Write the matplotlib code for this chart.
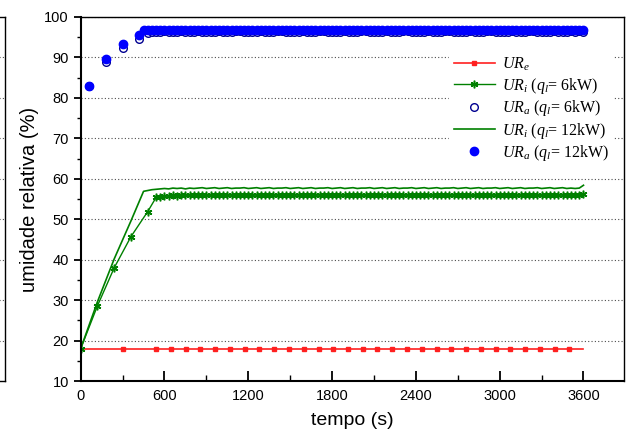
import numpy as np
import matplotlib
matplotlib.use('Agg')
from matplotlib import pyplot as plt
from matplotlib.ticker import MultipleLocator

plt.rcParams['font.family'] = ['Liberation Sans', 'DejaVu Sans']
plt.rcParams['mathtext.fontset'] = 'custom'
plt.rcParams['mathtext.rm'] = 'Liberation Serif'
plt.rcParams['mathtext.it'] = 'Liberation Serif:italic'

# tempos do patamar (s), amostragem de 30 s (103 pontos)
t_patamar = [540, 570, 600, 630, 660, 690, 720, 750, 780, 810,
             840, 870, 900, 930, 960, 990, 1020, 1050, 1080, 1110,
             1140, 1170, 1200, 1230, 1260, 1290, 1320, 1350, 1380, 1410,
             1440, 1470, 1500, 1530, 1560, 1590, 1620, 1650, 1680, 1710,
             1740, 1770, 1800, 1830, 1860, 1890, 1920, 1950, 1980, 2010,
             2040, 2070, 2100, 2130, 2160, 2190, 2220, 2250, 2280, 2310,
             2340, 2370, 2400, 2430, 2460, 2490, 2520, 2550, 2580, 2610,
             2640, 2670, 2700, 2730, 2760, 2790, 2820, 2850, 2880, 2910,
             2940, 2970, 3000, 3030, 3060, 3090, 3120, 3150, 3180, 3210,
             3240, 3270, 3300, 3330, 3360, 3390, 3420, 3450, 3480, 3510,
             3540, 3570, 3600]

# UR externa
t_e = [0, 300, 540, 646, 752, 857, 963, 1069, 1174, 1280, 1386, 1491,
       1597, 1703, 1808, 1914, 2020, 2125, 2231, 2337, 2442, 2548,
       2654, 2759, 2865, 2971, 3076, 3182, 3288, 3393, 3499, 3600]
ur_e = [18.0] * len(t_e)

# UR interna, q = 6 kW
t_i6 = [0, 120, 240, 360, 480] + t_patamar
ur_i6 = [18.0, 28.6, 38.0, 45.7, 51.9] + [
    55.4, 55.6, 55.7, 55.8, 55.9, 55.8, 56.0, 55.9, 56.0, 55.9,
    56.0, 56.1, 55.9, 56.0, 56.1, 56.0, 55.9, 56.1, 56.0, 56.1,
    56.0, 56.1, 55.9, 56.0, 56.1, 56.0, 55.9, 56.1, 56.0, 56.1,
    56.0, 56.1, 55.9, 56.0, 56.1, 56.0, 55.9, 56.1, 56.0, 56.1,
    56.0, 56.1, 55.9, 56.0, 56.1, 56.0, 55.9, 56.1, 56.0, 56.1,
    56.0, 56.1, 55.9, 56.0, 56.1, 56.0, 55.9, 56.1, 56.0, 56.1,
    56.0, 56.1, 55.9, 56.0, 56.1, 56.0, 55.9, 56.1, 56.0, 56.1,
    56.0, 56.1, 55.9, 56.0, 56.1, 56.0, 55.9, 56.1, 56.0, 56.1,
    56.0, 56.1, 55.9, 56.0, 56.1, 56.0, 55.9, 56.1, 56.0, 56.1,
    56.0, 56.1, 55.9, 56.0, 56.1, 56.0, 55.9, 56.1, 56.0, 56.1,
    56.0, 56.1, 56.2]

# UR ambiente, q = 6 kW
t_a6 = [60, 180, 300, 420, 480, 510] + t_patamar
ur_a6 = [83.0, 88.9, 92.3, 94.6, 96.0, 96.3] + [
    96.4, 96.4, 96.5, 96.4, 96.3, 96.4, 96.5, 96.4, 96.3, 96.4,
    96.5, 96.4, 96.4, 96.3, 96.4, 96.5, 96.4, 96.3, 96.4, 96.5,
    96.5, 96.4, 96.4, 96.3, 96.4, 96.5, 96.4, 96.3, 96.4, 96.5,
    96.5, 96.4, 96.4, 96.3, 96.4, 96.5, 96.4, 96.3, 96.4, 96.5,
    96.5, 96.4, 96.4, 96.3, 96.4, 96.5, 96.4, 96.3, 96.4, 96.5,
    96.5, 96.4, 96.4, 96.3, 96.4, 96.5, 96.4, 96.3, 96.4, 96.5,
    96.5, 96.4, 96.4, 96.3, 96.4, 96.5, 96.4, 96.3, 96.4, 96.5,
    96.5, 96.4, 96.4, 96.3, 96.4, 96.5, 96.4, 96.3, 96.4, 96.5,
    96.5, 96.4, 96.4, 96.3, 96.4, 96.5, 96.4, 96.3, 96.4, 96.5,
    96.5, 96.4, 96.4, 96.3, 96.4, 96.5, 96.4, 96.3, 96.4, 96.5,
    96.4, 96.5, 96.4]

# UR interna, q = 12 kW
t_i12 = [0, 120, 240, 360, 450, 480, 510] + t_patamar
ur_i12 = [18.0, 29.6, 40.2, 49.6, 56.9, 57.1, 57.3] + [
    57.4, 57.5, 57.6, 57.5, 57.7, 57.6, 57.7, 57.5, 57.7, 57.6,
    57.7, 57.8, 57.6, 57.7, 57.8, 57.6, 57.7, 57.8, 57.6, 57.7,
    57.7, 57.8, 57.6, 57.7, 57.8, 57.6, 57.7, 57.8, 57.6, 57.7,
    57.7, 57.8, 57.6, 57.7, 57.8, 57.6, 57.7, 57.8, 57.6, 57.7,
    57.7, 57.8, 57.6, 57.7, 57.8, 57.6, 57.7, 57.8, 57.6, 57.7,
    57.7, 57.8, 57.6, 57.7, 57.8, 57.6, 57.7, 57.8, 57.6, 57.7,
    57.7, 57.8, 57.6, 57.7, 57.8, 57.6, 57.7, 57.8, 57.6, 57.7,
    57.7, 57.8, 57.6, 57.7, 57.8, 57.6, 57.7, 57.8, 57.6, 57.7,
    57.7, 57.8, 57.6, 57.7, 57.8, 57.6, 57.7, 57.8, 57.6, 57.7,
    57.7, 57.8, 57.6, 57.7, 57.8, 57.6, 57.7, 57.8, 57.6, 57.7,
    57.6, 57.7, 58.4]

# UR ambiente, q = 12 kW
t_a12 = [60, 180, 300, 420, 450, 480, 510] + t_patamar
ur_a12 = [83.0, 89.5, 93.4, 95.6, 96.8, 96.8, 96.9] + [
    96.8, 96.9, 96.8, 96.7, 96.8, 96.9, 96.8, 96.8, 96.7, 96.8,
    96.9, 96.8, 96.7, 96.8, 96.9, 96.8, 96.8, 96.7, 96.8, 96.9,
    96.9, 96.8, 96.7, 96.8, 96.9, 96.8, 96.8, 96.7, 96.8, 96.9,
    96.9, 96.8, 96.7, 96.8, 96.9, 96.8, 96.8, 96.7, 96.8, 96.9,
    96.9, 96.8, 96.7, 96.8, 96.9, 96.8, 96.8, 96.7, 96.8, 96.9,
    96.9, 96.8, 96.7, 96.8, 96.9, 96.8, 96.8, 96.7, 96.8, 96.9,
    96.9, 96.8, 96.7, 96.8, 96.9, 96.8, 96.8, 96.7, 96.8, 96.9,
    96.9, 96.8, 96.7, 96.8, 96.9, 96.8, 96.8, 96.7, 96.8, 96.9,
    96.9, 96.8, 96.7, 96.8, 96.9, 96.8, 96.8, 96.7, 96.8, 96.9,
    96.9, 96.8, 96.7, 96.8, 96.9, 96.8, 96.8, 96.7, 96.8, 96.9,
    96.8, 96.9, 96.8]

legendas = [r'$UR_e$', r'$UR_i$ ($q_l$= 6kW)', r'$UR_a$ ($q_l$= 6kW)',
            r'$UR_i$ ($q_l$= 12kW)', r'$UR_a$ ($q_l$= 12kW)']

fig = plt.figure(figsize=(6.27, 4.38), dpi=100)

# pedaco do grafico vizinho cortado na borda esquerda
ax0 = fig.add_axes([-0.2, 0.1301, 0.2 + 5 / 627, 0.8311])
ax0.set_ylim(10, 100)
ax0.set_yticks(range(20, 100, 10))
ax0.tick_params(left=False, labelleft=False, bottom=False, labelbottom=False)
ax0.grid(axis='y', color='0.3', linestyle=(0, (1, 2)), linewidth=0.8)
for s in ax0.spines.values():
    s.set_linewidth(1.0)

ax = fig.add_axes([80.7 / 627, 0.1301, (624 - 80.7) / 627, 0.8311])

ax.plot(t_e, ur_e, color='#ff2020', lw=1.2, marker='s', markersize=3,
        markevery=slice(1, -1), label=legendas[0])
ax.plot(t_i6, ur_i6, color='#008000', lw=1.0, marker=(6, 2, 0), markersize=5.5,
        markeredgewidth=1.1, label=legendas[1])
ax.plot(t_a6, ur_a6, linestyle='none', marker='o', markersize=5.5,
        markerfacecolor='white', markeredgecolor='#000090', markeredgewidth=1.0,
        label=legendas[2])
ax.plot(t_i12, ur_i12, color='#008000', lw=1.2, label=legendas[3])
ax.plot(t_a12, ur_a12, linestyle='none', marker='o', markersize=6,
        color='#0000ff', label=legendas[4])

ax.set_xlim(0, 3890)
ax.set_ylim(10, 100)
ax.xaxis.set_major_locator(MultipleLocator(600))
ax.xaxis.set_minor_locator(MultipleLocator(300))
ax.yaxis.set_major_locator(MultipleLocator(10))
ax.yaxis.set_minor_locator(MultipleLocator(5))
ax.grid(axis='y', color='0.3', linestyle=(0, (1, 2)), linewidth=0.8)
ax.set_axisbelow(True)

ax.tick_params(axis='y', which='major', direction='out', length=5, width=1.3, labelsize=10.5)
ax.tick_params(axis='y', which='minor', direction='out', length=3, width=1.0)
ax.tick_params(axis='x', which='major', direction='in', length=7, width=1.3, labelsize=10.5, pad=6)
ax.tick_params(axis='x', which='minor', direction='in', length=4, width=1.0)
ax.spines['left'].set_linewidth(1.5)
ax.spines['bottom'].set_linewidth(1.5)
ax.spines['top'].set_linewidth(1.0)
ax.spines['right'].set_linewidth(1.0)

ax.set_xlabel('tempo (s)', fontsize=14, labelpad=6)
ax.set_ylabel('umidade relativa (%)', fontsize=14.5, labelpad=4)

leg = ax.legend(loc='upper right', bbox_to_anchor=(0.995, 0.928),
                prop={'family': 'Liberation Serif', 'size': 11.5},
                frameon=True, framealpha=1, edgecolor='white', fancybox=False,
                handlelength=2.6, handletextpad=0.4, labelspacing=0.15,
                borderpad=0.3)

fig.savefig('out.png', dpi=100)
